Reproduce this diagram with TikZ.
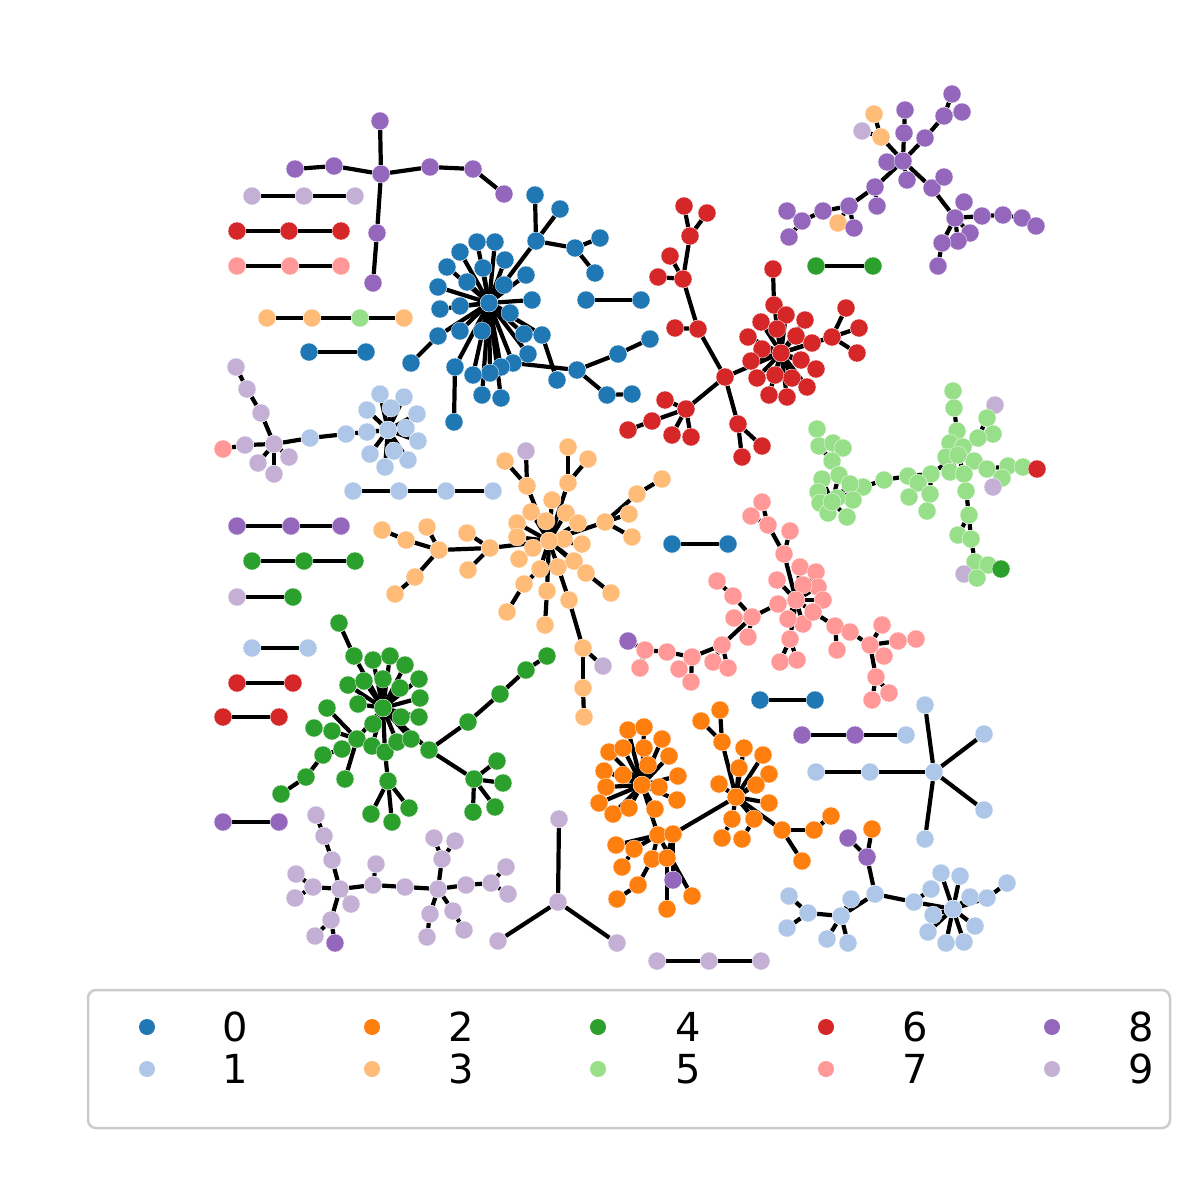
\documentclass[tikz,border=0pt]{standalone}
\usepackage{fontspec}
\setmainfont{DejaVu Sans}
\pgfdeclarelayer{bg}
\pgfsetlayers{bg,main}
\definecolor{C0}{HTML}{1F77B4}
\definecolor{C1}{HTML}{AEC7E8}
\definecolor{C2}{HTML}{FF7F0E}
\definecolor{C3}{HTML}{FFBB78}
\definecolor{C4}{HTML}{2CA02C}
\definecolor{C5}{HTML}{98DF8A}
\definecolor{C6}{HTML}{D62728}
\definecolor{C7}{HTML}{FF9896}
\definecolor{C8}{HTML}{9467BD}
\definecolor{C9}{HTML}{C5B0D5}
\definecolor{frameC}{HTML}{CCCCCC}
\tikzset{
  nd/.style={circle,inner sep=0pt,minimum size=18pt,draw=white,line width=0.3pt},
  c0/.style={nd,fill=C0}, c1/.style={nd,fill=C1}, c2/.style={nd,fill=C2},
  c3/.style={nd,fill=C3}, c4/.style={nd,fill=C4}, c5/.style={nd,fill=C5},
  c6/.style={nd,fill=C6}, c7/.style={nd,fill=C7}, c8/.style={nd,fill=C8},
  c9/.style={nd,fill=C9},
  lm/.style={circle,inner sep=0pt,minimum size=16pt},
  ed/.style={line width=4.2pt,black},
  lgtext/.style={anchor=west,inner sep=0pt,font=\fontsize{40}{48}\selectfont}
}
\newcommand\mynode[4]{\node[c#1] (#2) at (#3,#4) {};}
\newcommand\myedges[2]{\foreach \tgt in {#2}{\draw[ed] (#1)--(\tgt);}}
\begin{document}
\begin{tikzpicture}[x=1pt,y=-1pt]
\useasboundingbox (0,0) rectangle (1200,1200);
% ---- purple tree top-left
\mynode{8}{a1}{380}{121}\mynode{8}{a2}{381}{174}\mynode{8}{a3}{334}{166}
\mynode{8}{a4}{295}{169}\mynode{8}{a5}{430}{167}\mynode{8}{a6}{473}{169}
\mynode{8}{a7}{504}{194}\mynode{8}{a8}{377}{233}\mynode{8}{a9}{373}{283}
% ---- short lines
\mynode{9}{b1}{252}{196}\mynode{9}{b2}{304}{196}\mynode{9}{b3}{355}{196}
\mynode{6}{r1}{237}{231}\mynode{6}{r2}{289}{231}\mynode{6}{r3}{341}{231}
\mynode{7}{p1}{237}{266}\mynode{7}{p2}{290}{266}\mynode{7}{p3}{341}{266}
\mynode{3}{o1}{267}{318}\mynode{3}{o2}{312}{318}\mynode{5}{o3}{360}{318}\mynode{3}{o4}{404}{318}
\mynode{0}{bp1}{309}{352}\mynode{0}{bp2}{366}{352}
\mynode{1}{lbl1}{353}{491}\mynode{1}{lbl2}{399}{491}\mynode{1}{lbl3}{446}{491}\mynode{1}{lbl4}{493}{491}
\mynode{8}{pu1}{237}{526}\mynode{8}{pu2}{291}{526}\mynode{8}{pu3}{341}{526}
\mynode{4}{gl1}{252}{561}\mynode{4}{gl2}{304}{561}\mynode{4}{gl3}{355}{561}
\mynode{9}{q1}{237}{597}\mynode{4}{q2}{293}{597}
\mynode{1}{lbp1}{252}{648}\mynode{1}{lbp2}{308}{648}
\mynode{6}{rp1}{237}{683}\mynode{6}{rp2}{293}{683}
\mynode{6}{rq1}{223}{717}\mynode{6}{rq2}{279}{717}
\mynode{8}{pp1}{223}{822}\mynode{8}{pp2}{279}{822}
\mynode{0}{bq1}{586}{300}\mynode{0}{bq2}{641}{300}
\mynode{4}{gq1}{816}{266}\mynode{4}{gq2}{873}{266}
\mynode{0}{bm1}{672}{544}\mynode{0}{bm2}{728}{544}
\mynode{0}{bl1}{760}{700}\mynode{0}{bl2}{815}{700}
\mynode{9}{lp1}{657}{961}\mynode{9}{lp2}{709}{961}\mynode{9}{lp3}{761}{961}
\mynode{8}{ml1}{802}{735}\mynode{8}{ml2}{855}{735}\mynode{1}{ml3}{906}{735}
% ---- light purple left cluster
\mynode{9}{d1}{236}{367}\mynode{9}{d2}{247}{389}\mynode{9}{d3}{261}{413}
\mynode{9}{d4}{274}{444}\mynode{9}{d5}{245}{445}\mynode{7}{d6}{223}{449}
\mynode{9}{d7}{258}{463}\mynode{9}{d8}{289}{457}\mynode{9}{d9}{274}{474}
\mynode{1}{d10}{310}{438}\mynode{1}{d11}{346}{434}
% ---- light blue star
\mynode{1}{e1}{380}{394}\mynode{1}{e2}{404}{397}\mynode{1}{e3}{367}{410}
\mynode{1}{e5}{417}{414}\mynode{1}{e6}{367}{432}
\mynode{1}{e8}{418}{441}\mynode{1}{e9}{370}{454}
\mynode{1}{e11}{385}{467}\mynode{1}{e12}{408}{460}
\mynode{1}{e4}{391}{408}\mynode{1}{e7}{406}{428}\mynode{1}{e10}{394}{451}
\mynode{1}{e0}{388}{430}
% ---- blue star
\mynode{0}{f1}{477}{242}\mynode{0}{f2}{495}{242}\mynode{0}{f3}{460}{252}
\mynode{0}{f4}{447}{267}\mynode{0}{f5}{483}{268}\mynode{0}{f6}{467}{282}
\mynode{0}{f7}{438}{287}\mynode{0}{f8}{460}{306}\mynode{0}{f9}{440}{309}
\mynode{0}{f10}{505}{260}\mynode{0}{f11}{504}{285}\mynode{0}{f12}{526}{275}
\mynode{0}{f13}{532}{300}\mynode{0}{f14}{510}{313}\mynode{0}{f15}{438}{336}
\mynode{0}{f16}{460}{331}\mynode{0}{f17}{482}{331}\mynode{0}{f18}{524}{334}
\mynode{0}{f19}{542}{335}\mynode{0}{f20}{528}{354}\mynode{0}{f21}{513}{363}
\mynode{0}{f22}{501}{367}\mynode{0}{f23}{490}{373}\mynode{0}{f24}{473}{375}
\mynode{0}{f25}{455}{367}\mynode{0}{f26}{482}{395}\mynode{0}{f27}{501}{398}
\mynode{0}{f28}{454}{422}\mynode{0}{f29}{411}{363}\mynode{0}{f30}{536}{241}
\mynode{0}{f31}{535}{195}\mynode{0}{f32}{560}{209}\mynode{0}{f33}{575}{248}
\mynode{0}{f34}{600}{238}\mynode{0}{f35}{595}{273}\mynode{0}{f36}{557}{380}
\mynode{0}{f37}{577}{370}\mynode{0}{f38}{618}{354}\mynode{0}{f39}{650}{339}
\mynode{0}{f40}{607}{395}\mynode{0}{f41}{632}{394}
\mynode{0}{f0}{489}{303}
% ---- red cluster
\mynode{6}{rd1}{684}{206}\mynode{6}{rd2}{707}{213}\mynode{6}{rd3}{690}{236}
\mynode{6}{rd4}{670}{256}\mynode{6}{rd5}{658}{277}\mynode{6}{rd6}{683}{279}
\mynode{6}{rd7}{675}{328}\mynode{6}{rd8}{698}{329}\mynode{6}{rd9}{725}{377}
\mynode{6}{rd10}{686}{409}\mynode{6}{rd11}{665}{400}\mynode{6}{rd12}{652}{421}
\mynode{6}{rd13}{628}{430}\mynode{6}{rd14}{672}{435}\mynode{6}{rd15}{691}{437}
\mynode{6}{rd16}{738}{424}\mynode{6}{rd17}{762}{446}\mynode{6}{rd18}{742}{457}
\mynode{6}{rs1}{761}{322}\mynode{6}{rs2}{774}{305}\mynode{6}{rs3}{773}{269}
\mynode{6}{rs4}{786}{315}\mynode{6}{rs5}{805}{320}\mynode{6}{rs6}{777}{329}
\mynode{6}{rs7}{796}{336}\mynode{6}{rs8}{748}{337}\mynode{6}{rs9}{762}{349}
\mynode{6}{rs10}{812}{343}\mynode{6}{rs11}{751}{361}\mynode{6}{rs12}{801}{360}
\mynode{6}{rs13}{816}{369}\mynode{6}{rs14}{757}{378}\mynode{6}{rs15}{775}{375}
\mynode{6}{rs16}{792}{378}\mynode{6}{rs17}{807}{387}\mynode{6}{rs18}{769}{395}
\mynode{6}{rs19}{787}{397}\mynode{6}{rs20}{832}{337}\mynode{6}{rs21}{846}{308}
\mynode{6}{rs22}{859}{328}\mynode{6}{rs23}{857}{353}
\mynode{6}{rs0}{781}{353}
% ---- purple top-right
\mynode{8}{h1}{952}{94}\mynode{8}{h2}{962}{112}\mynode{8}{h3}{944}{116}
\mynode{8}{h4}{925}{138}\mynode{8}{h5}{905}{110}\mynode{8}{h6}{904}{133}
\mynode{8}{h7}{887}{162}\mynode{8}{h8}{907}{180}\mynode{3}{h9}{874}{114}
\mynode{9}{h10}{862}{131}\mynode{3}{h11}{881}{137}\mynode{8}{h12}{875}{187}
\mynode{8}{h13}{877}{206}\mynode{8}{h14}{849}{206}\mynode{3}{h15}{838}{223}
\mynode{8}{h16}{854}{228}\mynode{8}{h17}{823}{211}\mynode{8}{h18}{802}{221}
\mynode{8}{h19}{787}{211}\mynode{8}{h20}{789}{237}\mynode{8}{h21}{932}{188}
\mynode{8}{h22}{944}{177}\mynode{8}{h23}{955}{218}\mynode{8}{h24}{964}{202}
\mynode{8}{h25}{982}{216}\mynode{8}{h26}{1003}{215}\mynode{8}{h27}{1022}{218}
\mynode{8}{h28}{1036}{226}\mynode{8}{h29}{970}{233}\mynode{8}{h30}{958}{241}
\mynode{8}{h31}{942}{243}\mynode{8}{h32}{938}{266}
\mynode{8}{h0}{903}{161}
% ---- light green cluster
\mynode{5}{k1}{953}{391}\mynode{5}{k2}{954}{408}\mynode{5}{k3}{957}{431}
\mynode{9}{k4}{995}{405}\mynode{5}{k5}{987}{418}\mynode{5}{k6}{993}{434}
\mynode{5}{k7}{978}{438}\mynode{5}{k8}{950}{443}\mynode{5}{k9}{963}{447}
\mynode{5}{k10}{946}{457}\mynode{5}{k11}{974}{461}\mynode{5}{k12}{950}{472}
\mynode{5}{k13}{964}{474}\mynode{5}{k14}{987}{469}\mynode{5}{k15}{1008}{466}
\mynode{5}{k16}{1023}{467}\mynode{6}{k17}{1037}{469}\mynode{5}{k18}{1002}{478}
\mynode{9}{k19}{993}{487}\mynode{5}{k20}{966}{491}\mynode{5}{k21}{969}{515}
\mynode{5}{k22}{958}{535}\mynode{5}{k23}{971}{539}\mynode{5}{k24}{975}{562}
\mynode{5}{k25}{988}{565}\mynode{4}{k26}{1001}{569}\mynode{9}{k27}{964}{574}
\mynode{5}{k28}{977}{578}\mynode{5}{k29}{931}{474}\mynode{5}{k30}{908}{476}
\mynode{5}{k31}{918}{483}\mynode{5}{k32}{909}{497}\mynode{5}{k33}{930}{494}
\mynode{5}{k34}{927}{511}\mynode{5}{k35}{884}{480}\mynode{5}{k36}{863}{487}
\mynode{5}{k37}{817}{429}\mynode{5}{k38}{819}{446}\mynode{5}{k39}{833}{443}
\mynode{5}{k40}{843}{448}\mynode{5}{k41}{832}{461}\mynode{5}{k42}{839}{475}
\mynode{5}{k43}{822}{479}\mynode{5}{k44}{850}{484}\mynode{5}{k45}{818}{492}
\mynode{5}{k46}{853}{500}\mynode{5}{k47}{820}{503}\mynode{5}{k48}{828}{513}
\mynode{5}{k49}{847}{517}\mynode{5}{k50}{837}{498}\mynode{5}{kL}{832}{502}
\mynode{5}{k0}{958}{455}
% ---- pink cluster
\mynode{7}{pk1}{762}{502}\mynode{7}{pk2}{751}{516}\mynode{7}{pk3}{768}{525}
\mynode{7}{pk4}{790}{531}\mynode{7}{pk5}{784}{554}\mynode{7}{pk6}{800}{567}
\mynode{7}{pk7}{816}{572}\mynode{7}{pk8}{777}{580}\mynode{7}{pk9}{818}{587}
\mynode{7}{pk10}{803}{585}\mynode{7}{pk11}{823}{600}\mynode{7}{pk12}{778}{604}
\mynode{7}{pk13}{803}{624}\mynode{7}{pk14}{813}{612}\mynode{7}{pk16}{788}{619}
\mynode{7}{pk17}{790}{639}\mynode{7}{pk18}{780}{662}\mynode{7}{pk19}{797}{660}
\mynode{7}{pk20}{835}{626}\mynode{7}{pk21}{850}{632}\mynode{7}{pk22}{837}{650}
\mynode{7}{pk23}{870}{645}\mynode{7}{pk24}{882}{625}\mynode{7}{pk25}{898}{641}
\mynode{7}{pk26}{916}{639}\mynode{7}{pk27}{884}{656}\mynode{7}{pk28}{876}{677}
\mynode{7}{pk29}{889}{693}\mynode{7}{pk30}{872}{700}\mynode{7}{pk31}{752}{617}
\mynode{7}{pk32}{733}{596}\mynode{7}{pk33}{717}{581}\mynode{7}{pk34}{734}{618}
\mynode{7}{pk35}{748}{637}\mynode{7}{pk36}{722}{645}\mynode{7}{pk37}{713}{662}
\mynode{7}{pk38}{728}{668}\mynode{7}{pk39}{692}{657}\mynode{7}{pk40}{679}{669}
\mynode{7}{pk41}{691}{682}\mynode{7}{pk42}{667}{652}\mynode{7}{pk43}{645}{650}
\mynode{7}{pk44}{640}{668}\mynode{8}{pk45}{628}{641}
\mynode{7}{pk0}{796}{600}
% ---- orange (3) star
\mynode{9}{os1}{526}{451}\mynode{3}{os2}{505}{461}\mynode{3}{os3}{527}{486}
\mynode{3}{os4}{568}{447}\mynode{3}{os5}{588}{459}\mynode{3}{os6}{568}{483}
\mynode{3}{os7}{552}{500}\mynode{3}{os8}{531}{512}\mynode{3}{os9}{566}{513}
\mynode{3}{os10}{546}{521}\mynode{3}{os11}{578}{523}\mynode{3}{os12}{517}{523}
\mynode{3}{os13}{605}{522}\mynode{3}{os14}{629}{514}\mynode{3}{os15}{637}{494}
\mynode{3}{os16}{662}{479}\mynode{3}{os17}{632}{537}\mynode{3}{os18}{517}{537}
\mynode{3}{os19}{564}{539}\mynode{3}{os20}{533}{548}\mynode{3}{os21}{582}{544}
\mynode{3}{os22}{490}{548}\mynode{3}{os23}{519}{559}\mynode{3}{os24}{540}{569}
\mynode{3}{os25}{558}{567}\mynode{3}{os26}{574}{561}\mynode{3}{os27}{586}{573}
\mynode{3}{os28}{611}{593}\mynode{3}{os29}{524}{584}\mynode{3}{os30}{547}{591}
\mynode{3}{os31}{569}{600}\mynode{3}{os32}{507}{612}\mynode{3}{os33}{545}{625}
\mynode{3}{os34}{583}{648}\mynode{9}{os35}{603}{666}\mynode{3}{os36}{583}{688}
\mynode{3}{os37}{584}{717}\mynode{3}{os38}{382}{530}\mynode{3}{os39}{406}{540}
\mynode{3}{os40}{427}{527}\mynode{3}{os41}{439}{550}\mynode{3}{os42}{467}{533}
\mynode{3}{os43}{468}{570}\mynode{3}{os44}{415}{577}\mynode{3}{os45}{395}{594}
\mynode{3}{os0}{549}{541}
% ---- green (4) star
\mynode{4}{gr1}{339}{623}\mynode{4}{gr2}{354}{656}\mynode{4}{gr3}{373}{660}
\mynode{4}{gr4}{390}{656}\mynode{4}{gr5}{405}{665}\mynode{4}{gr6}{419}{679}
\mynode{4}{gr7}{348}{685}\mynode{4}{gr8}{364}{681}\mynode{4}{gr9}{383}{679}
\mynode{4}{gr10}{400}{688}\mynode{4}{gr11}{420}{698}\mynode{4}{gr12}{358}{704}
\mynode{4}{gr13}{419}{717}\mynode{4}{gr14}{401}{717}\mynode{4}{gr15}{373}{724}
\mynode{4}{gr16}{327}{708}\mynode{4}{gr17}{314}{728}\mynode{4}{gr18}{332}{731}
\mynode{4}{gr19}{357}{739}\mynode{4}{gr20}{342}{749}\mynode{4}{gr21}{323}{755}
\mynode{4}{gr22}{306}{777}\mynode{4}{gr23}{281}{794}\mynode{4}{gr24}{345}{779}
\mynode{4}{gr25}{372}{746}\mynode{4}{gr26}{385}{752}\mynode{4}{gr27}{397}{742}
\mynode{4}{gr28}{411}{739}\mynode{4}{gr29}{429}{750}\mynode{4}{gr30}{468}{722}
\mynode{4}{gr31}{500}{694}\mynode{4}{gr32}{526}{670}\mynode{4}{gr33}{547}{656}
\mynode{4}{gr34}{388}{781}\mynode{4}{gr35}{371}{814}\mynode{4}{gr36}{392}{822}
\mynode{4}{gr37}{409}{808}\mynode{4}{gr38}{474}{779}\mynode{4}{gr39}{497}{761}
\mynode{4}{gr40}{503}{783}\mynode{4}{gr41}{473}{812}\mynode{4}{gr42}{495}{807}
\mynode{4}{gr0}{383}{708}
% ---- orange (2) clusters
\mynode{2}{oa1}{609}{752}\mynode{2}{oa2}{623}{748}\mynode{2}{oa3}{644}{748}
\mynode{2}{oa4}{662}{739}\mynode{2}{oa5}{669}{756}\mynode{2}{oa6}{648}{765}
\mynode{2}{oa7}{604}{771}\mynode{2}{oa8}{623}{775}\mynode{2}{oa9}{678}{776}
\mynode{2}{oa10}{606}{787}\mynode{2}{oa11}{599}{803}\mynode{2}{oa12}{613}{814}
\mynode{2}{oa13}{629}{808}\mynode{2}{oa14}{659}{787}\mynode{2}{oa15}{677}{800}
\mynode{2}{oa16}{655}{809}\mynode{2}{oa17}{628}{730}\mynode{2}{oa18}{644}{727}
\mynode{2}{oa0}{642}{785}
\mynode{2}{oc1}{658}{835}\mynode{2}{oc2}{673}{834}\mynode{2}{oc3}{616}{845}
\mynode{2}{oc4}{634}{849}\mynode{2}{oc5}{622}{867}\mynode{2}{oc6}{652}{859}
\mynode{2}{oc7}{667}{858}\mynode{2}{oc8}{638}{885}\mynode{2}{oc9}{617}{899}
\mynode{8}{oc10}{673}{880}\mynode{2}{oc11}{692}{896}\mynode{2}{oc12}{667}{909}
\mynode{2}{ob1}{722}{742}\mynode{2}{ob2}{720}{710}\mynode{2}{ob3}{701}{721}
\mynode{2}{ob4}{744}{748}\mynode{2}{ob5}{763}{755}\mynode{2}{ob6}{739}{768}
\mynode{2}{ob7}{769}{774}\mynode{2}{ob8}{719}{784}\mynode{2}{ob9}{756}{785}
\mynode{2}{ob10}{769}{803}\mynode{2}{ob11}{732}{819}\mynode{2}{ob12}{754}{819}
\mynode{2}{ob13}{722}{838}\mynode{2}{ob14}{742}{839}\mynode{2}{ob15}{782}{830}
\mynode{2}{ob16}{814}{830}\mynode{2}{ob17}{831}{816}\mynode{2}{ob18}{802}{861}
\mynode{2}{ob0}{736}{797}
% ---- bottom right light blue
\mynode{8}{m1}{848}{838}\mynode{2}{m2}{872}{829}\mynode{8}{m3}{867}{857}
\mynode{1}{lb1}{875}{894}\mynode{1}{lb2}{851}{899}\mynode{1}{lb3}{841}{916}
\mynode{1}{lb4}{808}{913}\mynode{1}{lb5}{789}{896}\mynode{1}{lb6}{787}{928}
\mynode{1}{lb7}{827}{939}\mynode{1}{lb8}{848}{943}\mynode{1}{lb9}{914}{902}
\mynode{1}{lb10}{931}{889}\mynode{1}{lb11}{933}{915}\mynode{1}{lb12}{941}{873}
\mynode{1}{lb13}{960}{876}\mynode{1}{lb14}{970}{897}\mynode{1}{lb15}{987}{898}
\mynode{1}{lb16}{1007}{883}\mynode{1}{lb17}{928}{932}\mynode{1}{lb18}{946}{943}
\mynode{1}{lb19}{964}{942}\mynode{1}{lb20}{975}{926}\mynode{1}{lb0}{953}{909}
\mynode{1}{ls1}{925}{705}\mynode{1}{ls2}{984}{734}\mynode{1}{ls3}{870}{772}
\mynode{1}{ls4}{816}{772}\mynode{1}{ls5}{984}{810}\mynode{1}{ls6}{925}{839}
\mynode{1}{ls0}{934}{772}
% ---- light purple bottom
\mynode{9}{v1}{316}{815}\mynode{9}{v2}{324}{836}\mynode{9}{v3}{332}{860}
\mynode{9}{v4}{313}{887}\mynode{9}{v5}{296}{874}\mynode{9}{v6}{295}{898}
\mynode{9}{v7}{351}{904}\mynode{9}{v8}{331}{920}\mynode{9}{v9}{315}{936}
\mynode{8}{v10}{335}{943}\mynode{9}{v11}{373}{885}\mynode{9}{v12}{376}{864}
\mynode{9}{v13}{405}{887}\mynode{9}{v14}{442}{859}\mynode{9}{v15}{434}{838}
\mynode{9}{v16}{455}{841}\mynode{9}{v17}{466}{885}\mynode{9}{v18}{491}{883}
\mynode{9}{v19}{506}{867}\mynode{9}{v20}{508}{894}\mynode{9}{v21}{430}{914}
\mynode{9}{v22}{427}{937}\mynode{9}{v23}{453}{911}\mynode{9}{v24}{464}{930}
\mynode{9}{v0}{340}{889}\mynode{9}{w0}{438}{889}
\mynode{9}{y1}{559}{819}\mynode{9}{y2}{498}{941}\mynode{9}{y3}{617}{943}\mynode{9}{y0}{558}{902}
% ================= edges
\begin{pgfonlayer}{bg}
\myedges{a2}{a1,a3,a5,a8}\myedges{a3}{a4}\myedges{a5}{a6}\myedges{a6}{a7}\myedges{a8}{a9}
\myedges{b2}{b1,b3}\myedges{r2}{r1,r3}\myedges{p2}{p1,p3}
\myedges{o2}{o1,o3}\myedges{o3}{o4}\myedges{bp1}{bp2}
\myedges{lbl2}{lbl1,lbl3}\myedges{lbl3}{lbl4}
\myedges{pu2}{pu1,pu3}\myedges{gl2}{gl1,gl3}\myedges{q1}{q2}\myedges{lbp1}{lbp2}
\myedges{rp1}{rp2}\myedges{rq1}{rq2}\myedges{pp1}{pp2}\myedges{bq1}{bq2}
\myedges{gq1}{gq2}\myedges{bm1}{bm2}\myedges{bl1}{bl2}
\myedges{lp2}{lp1,lp3}\myedges{ml2}{ml1,ml3}
\myedges{d2}{d1,d3}\myedges{d4}{d3,d5,d7,d8,d9,d10}\myedges{d5}{d6}\myedges{d11}{d10,e0}
\myedges{e0}{e1,e2,e3,e4,e5,e6,e7,e8,e9,e10,e11,e12}
\myedges{f0}{f1,f2,f3,f4,f5,f6,f7,f8,f9,f10,f11,f12,f13,f14,f15,f16,f17,f18,f19,f20,f21,f22,f23,f24,f25,f26,f27,f30}
\myedges{f25}{f28}\myedges{f15}{f29}\myedges{f30}{f31,f32,f33}\myedges{f33}{f34,f35}
\myedges{f19}{f36}\myedges{f21}{f37}\myedges{f37}{f38,f40}\myedges{f38}{f39}\myedges{f40}{f41}
\myedges{rd3}{rd1,rd2,rd6}\myedges{rd6}{rd4,rd5,rd8}\myedges{rd8}{rd7,rd9}
\myedges{rd9}{rd10,rd16,rs0}\myedges{rd10}{rd11,rd12,rd14,rd15}\myedges{rd12}{rd13}
\myedges{rd16}{rd17,rd18}
\myedges{rs0}{rs1,rs2,rs4,rs5,rs6,rs7,rs8,rs9,rs10,rs11,rs12,rs13,rs14,rs15,rs16,rs17,rs18,rs19,rs20}
\myedges{rs2}{rs3}\myedges{rs20}{rs21,rs22,rs23}
\myedges{h3}{h1,h2,h4}\myedges{h0}{h4,h6,h7,h8,h11,h12,h21}\myedges{h6}{h5}
\myedges{h11}{h9,h10}\myedges{h12}{h13,h14}\myedges{h14}{h15,h16,h17}\myedges{h17}{h18}
\myedges{h18}{h19,h20}\myedges{h21}{h22,h23}\myedges{h23}{h24,h25,h29,h30,h31}
\myedges{h25}{h26}\myedges{h26}{h27}\myedges{h27}{h28}\myedges{h31}{h32}
\myedges{k2}{k1,k3}\myedges{k0}{k3,k7,k8,k9,k10,k11,k12,k13,k14,k29}\myedges{k5}{k4,k6,k7}
\myedges{k14}{k15,k18}\myedges{k15}{k16}\myedges{k16}{k17}\myedges{k18}{k19}
\myedges{k13}{k20}\myedges{k20}{k21}\myedges{k21}{k22,k23}\myedges{k23}{k24}
\myedges{k24}{k25,k27,k28}\myedges{k25}{k26}
\myedges{k29}{k30,k33}\myedges{k33}{k34}\myedges{k30}{k31,k35}\myedges{k31}{k32}
\myedges{k35}{k36}\myedges{k36}{kL}
\myedges{k41}{k38,k39,k42}\myedges{k38}{k37}\myedges{k39}{k40}
\myedges{kL}{k42,k43,k44,k45,k46,k47,k48,k49,k50}
\myedges{pk3}{pk1,pk2,pk5}\myedges{pk5}{pk4,pk0}
\myedges{pk0}{pk6,pk7,pk8,pk9,pk10,pk11,pk12,pk13,pk14,pk16,pk17}
\myedges{pk17}{pk18,pk19}\myedges{pk14}{pk20}\myedges{pk20}{pk21,pk22}\myedges{pk21}{pk23}
\myedges{pk23}{pk24,pk25,pk27,pk28}\myedges{pk25}{pk26}\myedges{pk28}{pk29,pk30}
\myedges{pk12}{pk31}\myedges{pk31}{pk32,pk34,pk35,pk36}\myedges{pk32}{pk33}
\myedges{pk36}{pk37,pk38,pk39}\myedges{pk39}{pk40,pk41,pk42}\myedges{pk42}{pk43}
\myedges{pk43}{pk44,pk45}
\myedges{os3}{os1,os2,os0}\myedges{os6}{os4,os5,os0}
\myedges{os0}{os7,os8,os9,os10,os11,os12,os13,os18,os19,os20,os21,os22,os23,os24,os25,os26,os27,os30}
\myedges{os13}{os14,os15,os17}\myedges{os15}{os16}\myedges{os27}{os28}
\myedges{os24}{os29}\myedges{os29}{os32}\myedges{os25}{os31}\myedges{os31}{os34}
\myedges{os34}{os35,os36}\myedges{os36}{os37}\myedges{os30}{os33}
\myedges{os22}{os41,os42,os43}\myedges{os41}{os39,os40,os44}\myedges{os39}{os38}\myedges{os44}{os45}
\myedges{gr2}{gr1,gr0}
\myedges{gr0}{gr3,gr4,gr5,gr6,gr7,gr8,gr9,gr10,gr11,gr12,gr13,gr14,gr15,gr19,gr25,gr26,gr27,gr28,gr29}
\myedges{gr19}{gr16,gr18,gr20,gr24}\myedges{gr18}{gr17}\myedges{gr20}{gr21}\myedges{gr21}{gr22}
\myedges{gr22}{gr23}\myedges{gr26}{gr34}\myedges{gr34}{gr35,gr36,gr37}
\myedges{gr29}{gr30,gr38}\myedges{gr30}{gr31}\myedges{gr31}{gr32}\myedges{gr32}{gr33}
\myedges{gr38}{gr39,gr40,gr41,gr42}
\myedges{oa0}{oa1,oa2,oa3,oa4,oa5,oa6,oa7,oa8,oa9,oa10,oa11,oa12,oa13,oa14,oa15,oa16,oa17,oa18,oc1}
\myedges{oc1}{oc2,oc3,oc4,oc6,oc11}\myedges{oc2}{ob0,oc7,oc10}\myedges{oc4}{oc5}
\myedges{oc6}{oc8}\myedges{oc8}{oc9}\myedges{oc7}{oc12}
\myedges{ob0}{ob1,ob4,ob5,ob6,ob7,ob8,ob9,ob10,ob11,ob12,ob15}\myedges{ob1}{ob2,ob3}
\myedges{ob11}{ob13}\myedges{ob12}{ob14}\myedges{ob15}{ob16,ob18}\myedges{ob16}{ob17}
\myedges{m3}{m1,m2,lb1}\myedges{lb1}{lb3,lb9}\myedges{lb3}{lb2,lb4,lb7,lb8}\myedges{lb4}{lb5,lb6}
\myedges{lb9}{lb10,lb0}\myedges{lb0}{lb11,lb12,lb13,lb14,lb15,lb17,lb18,lb19,lb20}\myedges{lb15}{lb16}
\myedges{ls0}{ls1,ls2,ls3,ls5,ls6}\myedges{ls3}{ls4}
\myedges{v2}{v1,v3}\myedges{v0}{v3,v4,v7,v8,v11}\myedges{v4}{v5,v6}\myedges{v8}{v9,v10}
\myedges{v11}{v12,v13}\myedges{w0}{v13,v14,v17,v21,v23}\myedges{v14}{v15,v16}\myedges{v17}{v18}
\myedges{v18}{v19,v20}\myedges{v21}{v22}\myedges{v23}{v24}
\myedges{y0}{y1,y2,y3}
\end{pgfonlayer}
% ================= legend
\draw[frameC,line width=2.5pt,rounded corners=8pt,fill=white] (88,990) rectangle (1170,1128);
\node[lm,fill=C0] (L0) at (147,1027) {};
\node[lm,fill=C1] (L1) at (147,1069) {};
\node[lm,fill=C2] (L2) at (372,1027) {};
\node[lm,fill=C3] (L3) at (372,1069) {};
\node[lm,fill=C4] (L4) at (598,1027) {};
\node[lm,fill=C5] (L5) at (598,1069) {};
\node[lm,fill=C6] (L6) at (826,1027) {};
\node[lm,fill=C7] (L7) at (826,1069) {};
\node[lm,fill=C8] (L8) at (1052,1027) {};
\node[lm,fill=C9] (L9) at (1052,1069) {};
\node[lgtext] (T0) at (222,1027) {0};
\node[lgtext] (T1) at (222,1069) {1};
\node[lgtext] (T2) at (448,1027) {2};
\node[lgtext] (T3) at (448,1069) {3};
\node[lgtext] (T4) at (675,1027) {4};
\node[lgtext] (T5) at (675,1069) {5};
\node[lgtext] (T6) at (902,1027) {6};
\node[lgtext] (T7) at (902,1069) {7};
\node[lgtext] (T8) at (1128,1027) {8};
\node[lgtext] (T9) at (1128,1069) {9};
\end{tikzpicture}
\end{document}
